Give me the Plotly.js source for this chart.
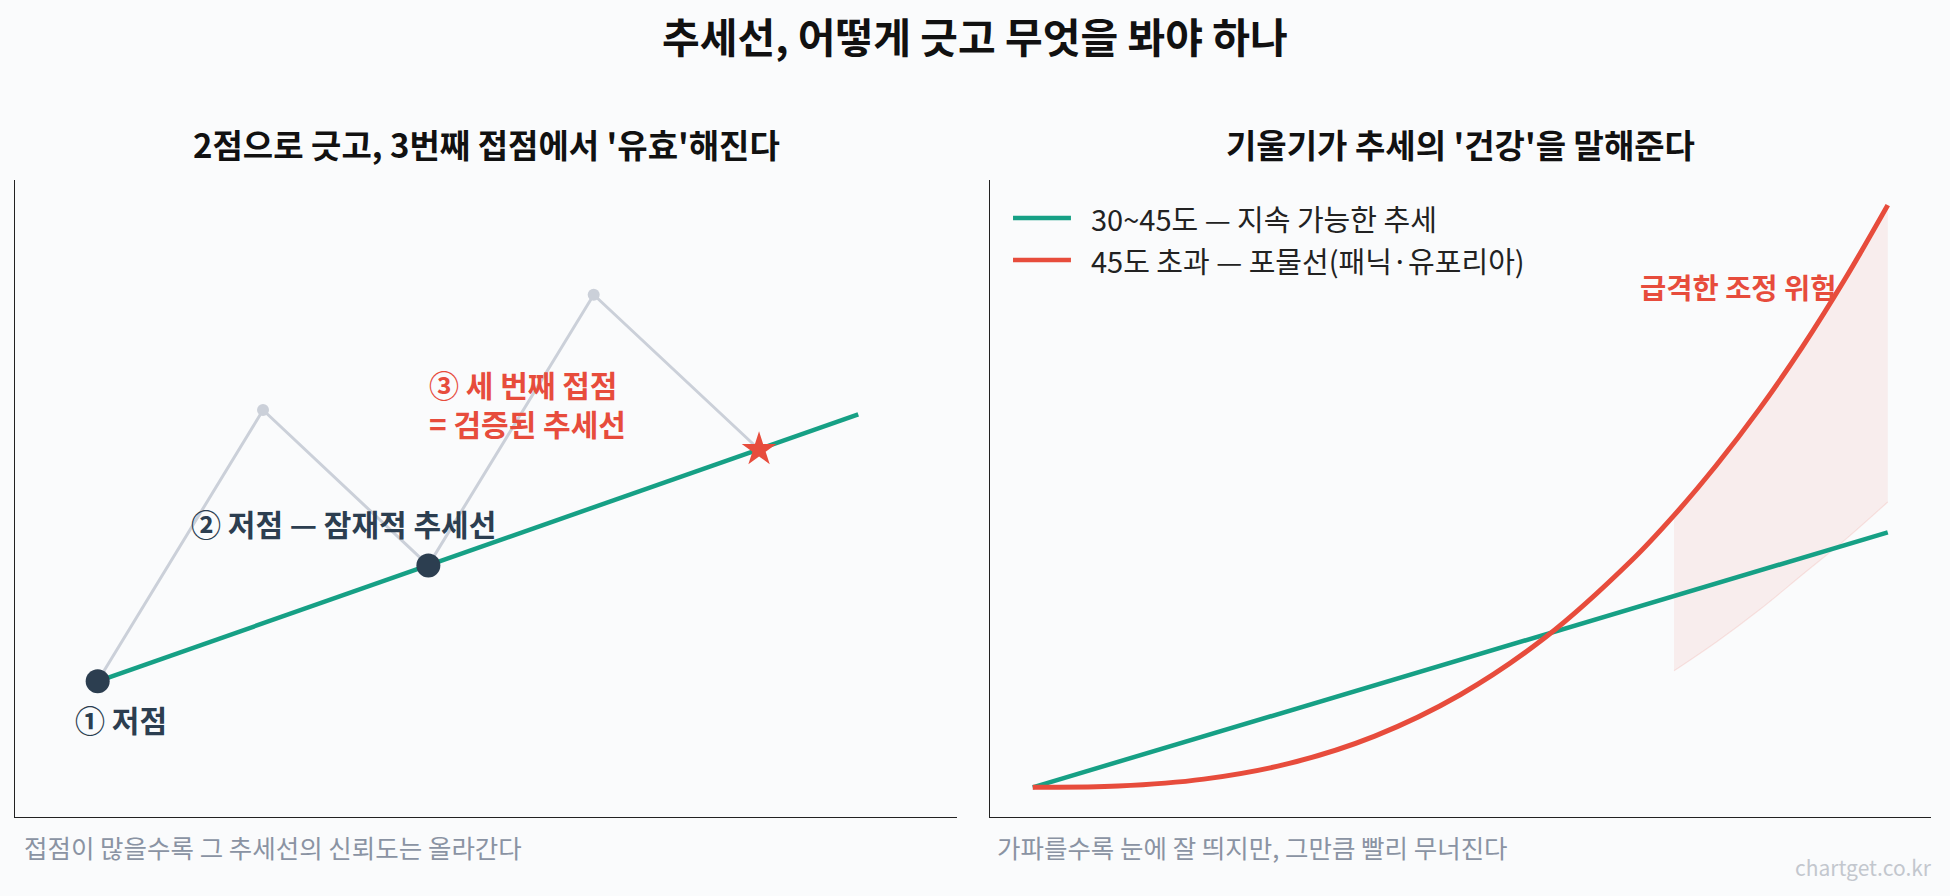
<!DOCTYPE html>
<html>
<head>
<meta charset="utf-8">
<script src="https://cdn.plot.ly/plotly-3.0.1.min.js"></script>
<style>
  html, body { margin: 0; padding: 0; background: #fafbfc; }
  #trendchart { width: 1950px; height: 896px; }
</style>
</head>
<body>
<div id="trendchart"></div>
<script>
/*--------------------------------------------------------------------------------- */
/* DATA */
/*--------------------------------------------------------------------------------- */
// left panel: zigzag price path, lows / peaks / 3rd touch
var pathX = [0, 1, 2, 3, 4];
var pathY = [2.13, 6.39, 3.95, 8.20, 5.77];
var lowX = [0, 2];
var lowY = [2.13, 3.95];
var peakX = [1, 3];
var peakY = [6.39, 8.20];
var touchX = [4];
var touchY = [5.77];
var trendX = [0, 4.6];
var trendY = [2.13, 6.32];

// right panel: healthy slope vs parabolic
var slopeX = [0, 10];
var slopeY = [0, 43.8];
var paraX = [0, 1, 2, 3, 4, 5, 6, 7, 7.5, 8, 8.5, 9, 9.5, 10];
var paraY = [0, 0.2, 1.4, 4.1, 8.8, 15.9, 25.8, 38.9, 46.7, 55.4, 65.0, 75.6, 87.3, 100];
var riskX = [7.5, 8, 8.5, 9, 9.5, 10];
var riskTop = [46.7, 55.4, 65.0, 75.6, 87.3, 100];
var riskBottom = [20, 25, 30.5, 36.5, 42.5, 49];

var legendNames = ['30~45도 — 지속 가능한 추세', '45도 초과 — 포물선(패닉·유포리아)'];

/*--------------------------------------------------------------------------------- */
/* COLOURS / FONT */
/*--------------------------------------------------------------------------------- */
var GREEN = '#16a085';
var RED = '#e74c3c';
var NAVY = '#2c3e50';
var GREY = '#cbd0d9';
var FONT = '"Noto Sans CJK KR", "Noto Sans", sans-serif';
var legendColors = [GREEN, RED];

/*--------------------------------------------------------------------------------- */
/* TRACES */
/*--------------------------------------------------------------------------------- */
var traces = [
  {x: pathX, y: pathY, xaxis: 'x', yaxis: 'y', mode: 'lines',
   line: {color: GREY, width: 3}, hoverinfo: 'skip'},
  {x: peakX, y: peakY, xaxis: 'x', yaxis: 'y', mode: 'markers',
   marker: {color: GREY, size: 12}, hoverinfo: 'skip'},
  {x: trendX, y: trendY, xaxis: 'x', yaxis: 'y', mode: 'lines',
   line: {color: GREEN, width: 4.5}, hoverinfo: 'skip'},
  {x: lowX, y: lowY, xaxis: 'x', yaxis: 'y', mode: 'markers',
   marker: {color: NAVY, size: 24}, hoverinfo: 'skip'},
  {x: touchX, y: touchY, xaxis: 'x', yaxis: 'y', mode: 'markers',
   marker: {color: RED, size: 26, symbol: 'star'}, hoverinfo: 'skip'},

  // risk band: bottom edge, then top edge filled down to it
  {x: riskX, y: riskBottom, xaxis: 'x2', yaxis: 'y2', mode: 'lines',
   line: {color: 'rgba(231,76,60,0.12)', width: 1.2, shape: 'spline'}, hoverinfo: 'skip'},
  {x: riskX, y: riskTop, xaxis: 'x2', yaxis: 'y2', mode: 'lines', fill: 'tonexty',
   fillcolor: 'rgba(231,76,60,0.08)', line: {color: 'rgba(231,76,60,0.12)', width: 1.2, shape: 'spline'},
   hoverinfo: 'skip'},
  {x: slopeX, y: slopeY, xaxis: 'x2', yaxis: 'y2', mode: 'lines', name: legendNames[0],
   line: {color: GREEN, width: 4.5}},
  {x: paraX, y: paraY, xaxis: 'x2', yaxis: 'y2', mode: 'lines', name: legendNames[1],
   line: {color: RED, width: 5, shape: 'spline'}}
];

/*--------------------------------------------------------------------------------- */
/* LAYOUT */
/*--------------------------------------------------------------------------------- */
function bareAxis(domain, range, anchor){
  return {
    domain: domain, range: range, anchor: anchor,
    showline: true, linecolor: '#222', linewidth: 1.5, mirror: false,
    showgrid: false, zeroline: false, showticklabels: false, ticks: '', fixedrange: true
  };
}

function note(text, x, y, opts){
  var a = {text: text, x: x, y: y, xref: 'paper', yref: 'paper', showarrow: false,
           xanchor: 'center', yanchor: 'middle', font: {family: FONT, size: 20, color: '#222'}};
  for (var k in opts) a[k] = opts[k];
  return a;
}

var annotations = [
  note('<b>추세선, 어떻게 긋고 무엇을 봐야 하나</b>', 0.5, 0.961, {font: {family: FONT, size: 41, color: '#111'}}),
  note('<b>2점으로 긋고, 3번째 접점에서 \'유효\'해진다</b>', 0.2495, 0.839, {font: {family: FONT, size: 33, color: '#111'}}),
  note('<b>기울기가 추세의 \'건강\'을 말해준다</b>', 0.749, 0.839, {font: {family: FONT, size: 33, color: '#111'}}),
  note('접점이 많을수록 그 추세선의 신뢰도는 올라간다', 0.0113, 0.0558, {xanchor: 'left', font: {family: FONT, size: 25.5, color: '#8a93a3'}}),
  note('가파를수록 눈에 잘 띄지만, 그만큼 빨리 무너진다', 0.510, 0.0558, {xanchor: 'left', font: {family: FONT, size: 25.5, color: '#8a93a3'}}),
  note('chartget.co.kr', 0.9918, 0.0324, {xanchor: 'right', font: {family: FONT, size: 21, color: '#c3c7ce'}}),

  {text: '<b>① 저점</b>', x: 0.14, y: 1.54, xref: 'x', yref: 'y', showarrow: false,
   xanchor: 'center', yanchor: 'middle', font: {family: FONT, size: 30, color: NAVY}},
  {text: '<b>② 저점 — 잠재적 추세선</b>', x: 0.55, y: 4.61, xref: 'x', yref: 'y', showarrow: false,
   xanchor: 'left', yanchor: 'middle', font: {family: FONT, size: 30, color: NAVY}},
  {text: '<b>③ 세 번째 접점<br>= 검증된 추세선</b>', x: 1.99, y: 6.50, xref: 'x', yref: 'y', showarrow: false,
   xanchor: 'left', yanchor: 'middle', align: 'left', font: {family: FONT, size: 30, color: RED}},
  {text: '<b>급격한 조정 위험</b>', x: 9.42, y: 86.1, xref: 'x2', yref: 'y2', showarrow: false,
   xanchor: 'right', yanchor: 'middle', font: {family: FONT, size: 28.5, color: RED}}
];

// legend drawn by hand so the sample lines are as long as in the original
var shapes = [];
var legendRows = [0.7567, 0.7098];
for (var i = 0; i < legendNames.length; i++) {
  shapes.push({type: 'line', xref: 'paper', yref: 'paper', x0: 0.5195, x1: 0.5492,
               y0: legendRows[i], y1: legendRows[i], line: {color: legendColors[i], width: 4.5}});
  annotations.push(note(legendNames[i], 0.5585, legendRows[i],
               {xanchor: 'left', font: {family: FONT, size: 29, color: '#222'}}));
}

var layout = {
  width: 1950, height: 896,
  margin: {l: 0, r: 0, t: 0, b: 0},
  paper_bgcolor: '#fafbfc', plot_bgcolor: '#fafbfc',
  font: {family: FONT},
  xaxis: bareAxis([0.0077, 0.491], [-0.5, 5.2], 'y'),
  yaxis: bareAxis([0.0882, 0.799], [0, 10], 'x'),
  xaxis2: bareAxis([0.5077, 0.990], [-0.5, 10.5], 'y2'),
  yaxis2: bareAxis([0.0882, 0.799], [-5.1, 104.3], 'x2'),
  showlegend: false,
  shapes: shapes,
  annotations: annotations
};

Plotly.newPlot('trendchart', traces, layout, {displayModeBar: false, staticPlot: true});
</script>
</body>
</html>
